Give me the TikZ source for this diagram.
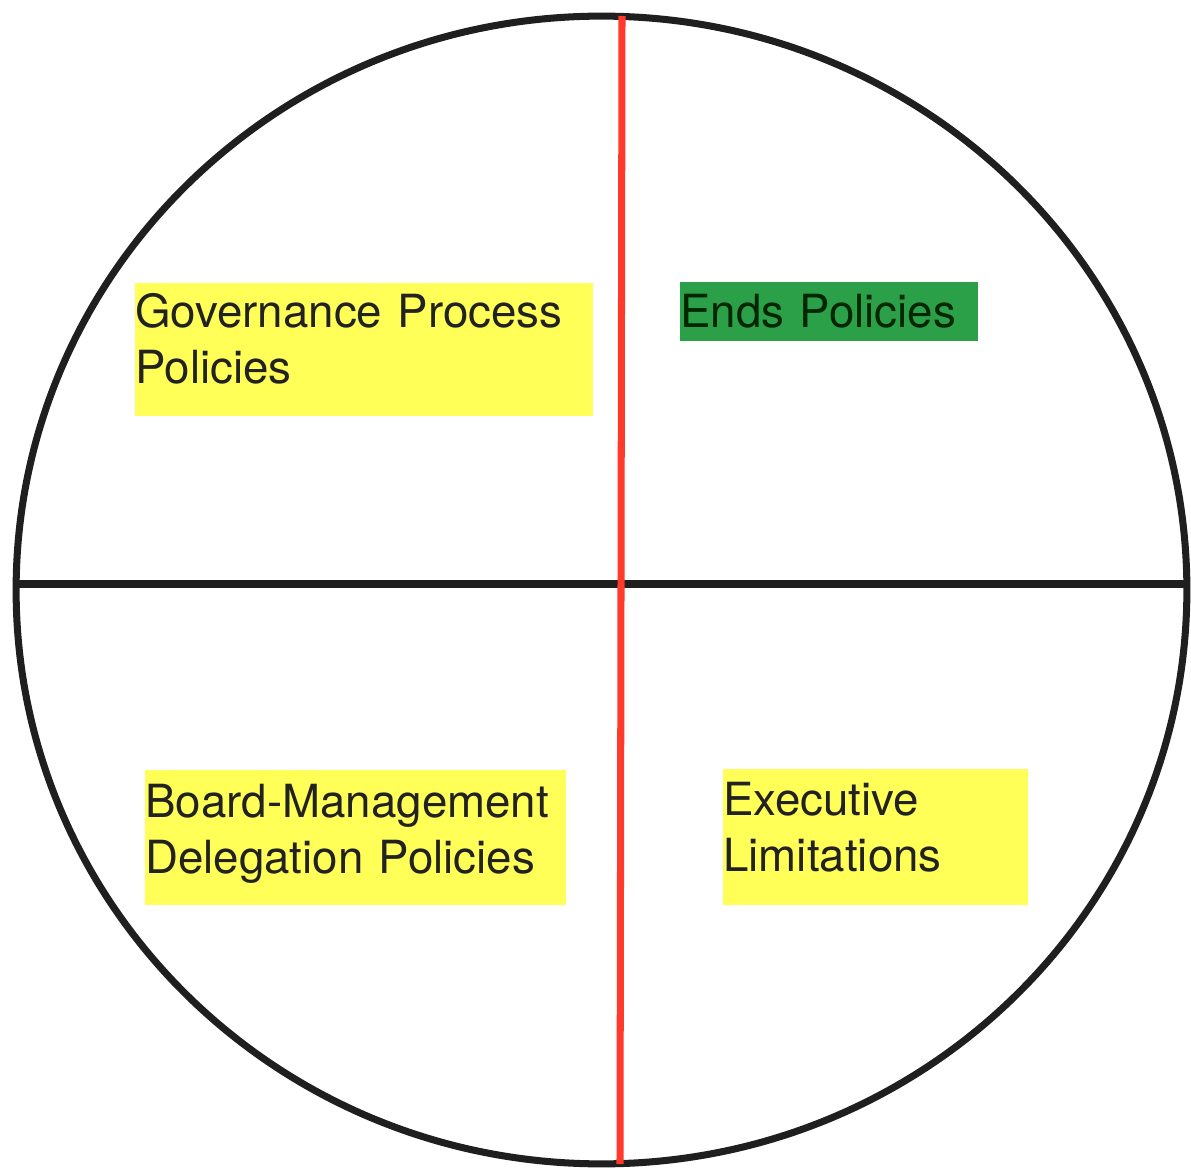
\documentclass[tikz,border=0pt]{standalone}
\usepackage{fontspec}
\setmainfont{TeX Gyre Heros}
\usepackage{xcolor}
\usetikzlibrary{positioning}
\definecolor{policyyellow}{RGB}{255,255,88}
\definecolor{policygreen}{RGB}{44,160,72}
\definecolor{axisred}{RGB}{255,58,44}
\definecolor{textgrey}{RGB}{34,34,34}

\begin{document}
\begin{tikzpicture}[x=0.02cm, y=-0.02cm,
	policy/.style={rectangle, anchor=north west, fill=policyyellow, inner sep=0, align=left,
		text=textgrey, text height=0.88cm, text depth=1.78cm,
		font=\fontsize{26}{31.75}\selectfont}]
		\useasboundingbox (0,0) rectangle (1191,1169);
		
		% circle and axes
		\coordinate (middle) at (601.5,590);
		\coordinate (west) at (16,584);
		\coordinate (east) at (1187,584);
		\coordinate (top) at (622,16);
		\coordinate (bottom) at (620,1164);
		
		\draw[line width=4pt, black!88] (middle) ellipse [x radius=11.71cm, y radius=11.48cm];
		\draw[line width=4pt, black!88] (west) -- (east);
		\draw[line width=4pt, axisred] (top) -- (bottom);
		
		% nodes
		\node[policy, text width=9.16cm] (governance) at (135,283)
		{Governance Process\\Policies};
		\node[policy, text width=5.96cm, fill=policygreen, text=black!85!green, text height=0.9cm, text depth=0.28cm] (ends) at (680,282)
		{Ends Policies};
		\node[policy, text width=8.42cm, text height=0.94cm, text depth=1.76cm] (delegation) at (145,770)
		{Board-Management\\Delegation Policies};
		\node[policy, text width=6.1cm, text height=0.92cm, text depth=1.8cm] (limitations) at (723,769)
		{Executive\\Limitations};
		\end{tikzpicture}
\end{document}
